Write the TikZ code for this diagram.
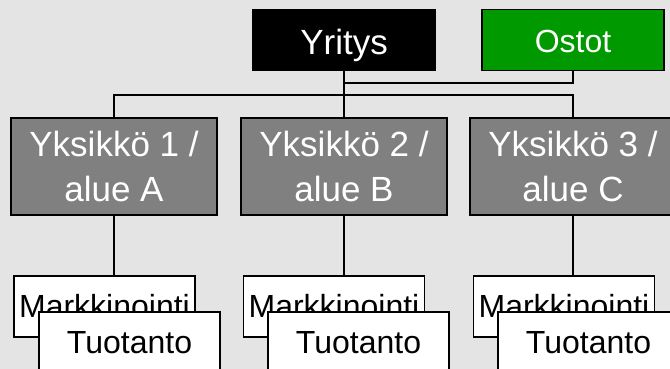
\documentclass[tikz,border=0pt]{standalone}
\usepackage{fontspec}
\setmainfont{Liberation Sans}
\definecolor{bg}{RGB}{228,228,228}
\definecolor{unitgray}{RGB}{128,128,128}
\definecolor{ostgreen}{RGB}{0,153,0}
\begin{document}
\begin{tikzpicture}[x=1pt,y=-1pt,
  boxbase/.style={draw=black,line width=1.8pt,rectangle,inner sep=0pt},
  topbox/.style={boxbase,minimum width=182pt,minimum height=61pt,text=white},
  unitbox/.style={boxbase,fill=unitgray,minimum width=206pt,minimum height=97pt,
    text=white,align=center,font=\fontsize{35}{45}\selectfont},
  leafbox/.style={boxbase,fill=white,minimum width=181pt,minimum height=61pt,
    text=black,font=\fontsize{32}{38}\selectfont},
  conn/.style={draw=black,line width=2pt}]
\useasboundingbox (0,0) rectangle (670,369);
\fill[bg] (0,0) rectangle (670,369);
% top level
\node[topbox,fill=black,font=\fontsize{35}{42}\selectfont,
  text height=28.1pt,text depth=0pt] (yr) at (344,40) {Yritys};
\node[topbox,fill=ostgreen,font=\fontsize{32}{38}\selectfont,
  text height=25.9pt,text depth=0pt] (os) at (573,40) {Ostot};
% units
\node[unitbox] (u1) at (114,166.5) {Yksikkö 1 /\\alue A};
\node[unitbox] (u2) at (344,166.5) {Yksikkö 2 /\\alue B};
\node[unitbox] (u3) at (573,166.5) {Yksikkö 3 /\\alue C};
% leaves
\node[leafbox] (m1) at (104.5,306.5) {Markkinointi};
\node[leafbox] (m2) at (334,306.5) {Markkinointi};
\node[leafbox] (m3) at (564,306.5) {Markkinointi};
\node[leafbox] (t1) at (129.5,342.5) {Tuotanto};
\node[leafbox] (t2) at (358.5,342.5) {Tuotanto};
\node[leafbox] (t3) at (588.5,342.5) {Tuotanto};
% connectors
\coordinate (j1) at (344,83);
\coordinate (bus) at (0,95);
\draw[conn] (os.south) |- (j1);
\draw[conn] (yr.south) -- (u2.north);
\draw[conn] (u1.north) -- (u1.north |- bus) -- (u3.north |- bus) -- (u3.north);
\draw[conn] (u1.south) -- (u1.south |- m1.north);
\draw[conn] (u2.south) -- (u2.south |- m2.north);
\draw[conn] (u3.south) -- (u3.south |- m3.north);
\end{tikzpicture}
\end{document}
